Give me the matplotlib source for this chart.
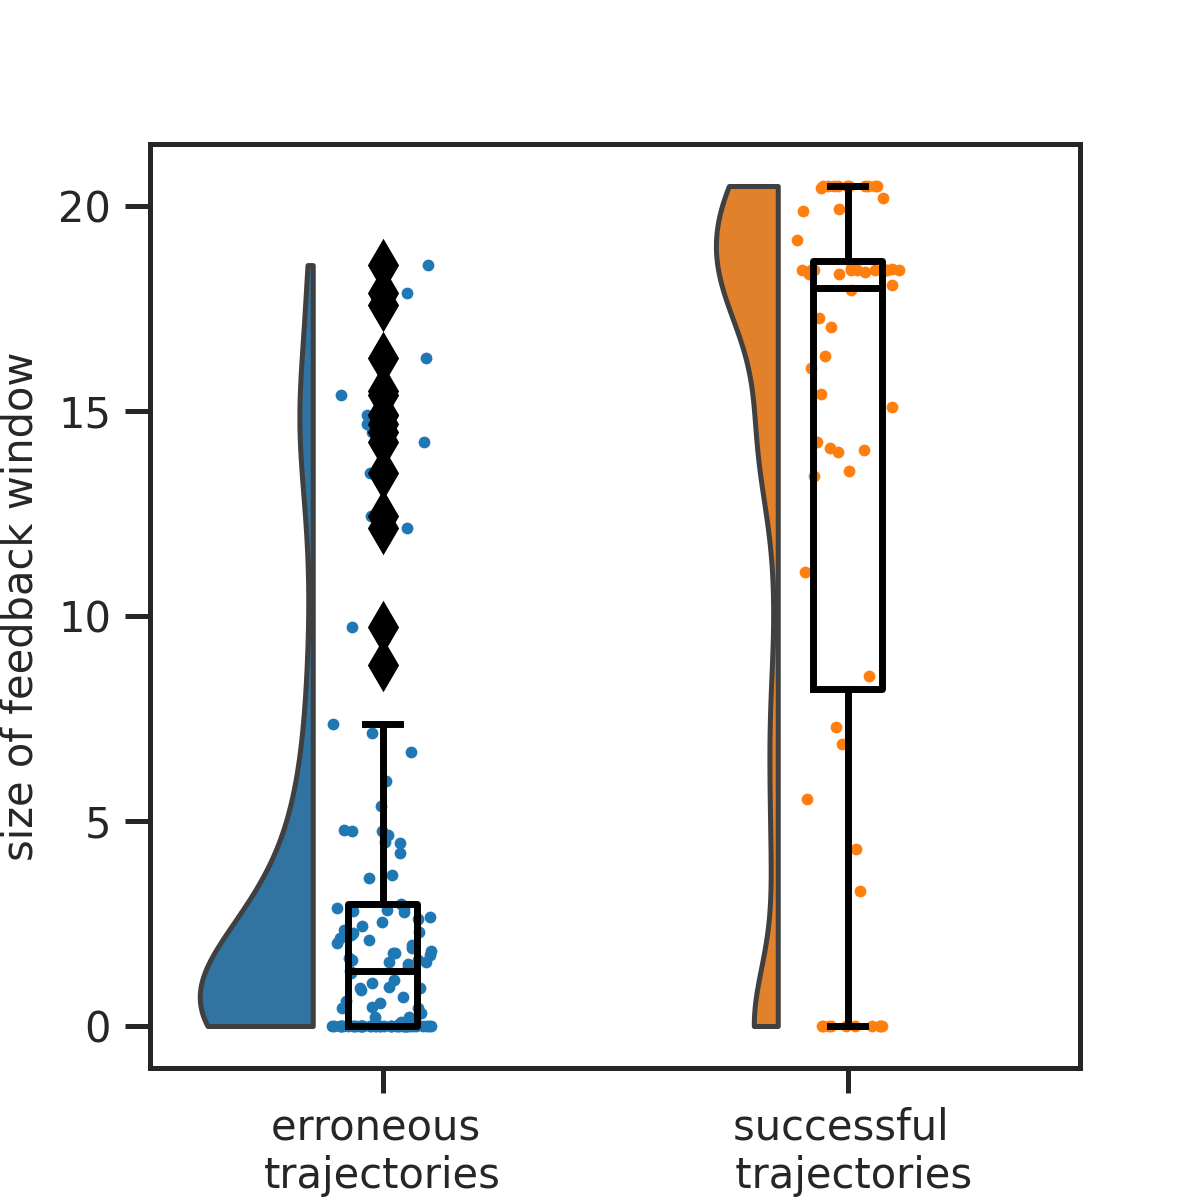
import numpy as np
import matplotlib
matplotlib.use("Agg")
import matplotlib.pyplot as plt

# values
categories = ["erroneous \ntrajectories", "successful \n trajectories"]

erroneous = [0.0] * 41 + [
    0.05, 0.1, 0.15, 0.22, 0.22, 0.32, 0.44, 0.44, 0.46, 0.56, 0.6, 0.71,
    0.88, 0.93, 0.93, 0.95, 1.05, 1.12, 1.3, 1.35,
    1.45, 1.52, 1.57, 1.57, 1.61, 1.61, 1.66, 1.74, 1.78, 1.78, 1.82, 1.9,
    1.98, 2.03, 2.1, 2.15, 2.22, 2.27, 2.3, 2.35, 2.45, 2.55, 2.6, 2.67,
    2.77, 2.8, 2.84, 2.88, 2.88, 2.98,
    3.61, 3.69, 4.22, 4.47, 4.5, 4.67, 4.75, 4.75, 4.79, 5.36, 5.97, 6.68,
    7.14, 7.36,
    8.8, 9.73, 12.15, 12.45, 13.5, 14.25, 14.5, 14.7, 14.9, 14.9, 15.4, 15.5,
    16.3, 17.6, 17.9, 18.57,
]

successful = [0.0] * 10 + [
    3.3, 4.33, 5.55, 6.87, 7.29, 8.53, 11.07, 13.42, 13.55, 14.0, 14.05,
    14.1, 14.25, 15.1, 15.43, 16.06, 16.35, 17.06, 17.28, 17.95, 18.08,
    18.36, 18.36, 18.4, 18.44, 18.44, 18.44, 18.44, 18.44, 18.44, 18.44,
    18.44, 18.46, 18.48, 18.5,
    19.17, 19.9, 19.95, 20.2, 20.44,
] + [20.5] * 10

data = [np.array(erroneous), np.array(successful)]
dot_colors = ["#1f77b4", "#ff7f0e"]
violin_colors = ["#3274a1", "#e1812c"]
# kde bandwidth factor and widest half-violin extent per group
bws = [0.32, 0.2]
half_widths = [0.243, 0.133]


def kde(vals, grid, bw=0.2):
    h = bw * vals.std(ddof=1)
    z = (grid[:, None] - vals[None, :]) / h
    return np.exp(-0.5 * z ** 2).sum(axis=1) / (len(vals) * h * np.sqrt(2 * np.pi))


plt.rcParams['font.family'] = ['DejaVu Sans']
fig, ax = plt.subplots(figsize=(6, 6), dpi=200)

# half violins, moved left of each category
for i, d in enumerate(data):
    g = np.linspace(d.min(), d.max(), 300)
    dd = kde(d, g, bws[i])
    dd = dd / dd.max() * half_widths[i]
    right = i - 0.15
    ax.fill_betweenx(g, right - dd, right, facecolor=violin_colors[i],
                     edgecolor="#404040", linewidth=1.8, zorder=1)

# jittered points
rng = np.random.default_rng(3)
for i, d in enumerate(data):
    xs = i + rng.uniform(-0.11, 0.11, len(d))
    ax.scatter(xs, d, s=18, color=dot_colors[i], linewidth=0, zorder=2)

lw = 2.5
ax.boxplot(data, positions=[0, 1], widths=0.15, manage_ticks=False,
           boxprops=dict(color="black", linewidth=lw),
           medianprops=dict(color="black", linewidth=lw),
           whiskerprops=dict(color="black", linewidth=lw),
           capprops=dict(color="black", linewidth=lw),
           flierprops=dict(marker="d", markerfacecolor="black",
                           markeredgecolor="black", markersize=12),
           zorder=3)

ax.set_xlim(-0.5, 1.5)
ax.set_xticks([0, 1])
ax.set_xticklabels(categories)
ax.set_yticks([0, 5, 10, 15, 20])
ax.set_ylabel("size of feedback window", fontsize=15, color="#262626",
              labelpad=6)
ax.tick_params(labelsize=15, width=1.8, length=9, pad=5, colors="#262626")
for sp in ax.spines.values():
    sp.set_linewidth(1.8)
    sp.set_color("#262626")

fig.savefig("out.png", dpi=200)
